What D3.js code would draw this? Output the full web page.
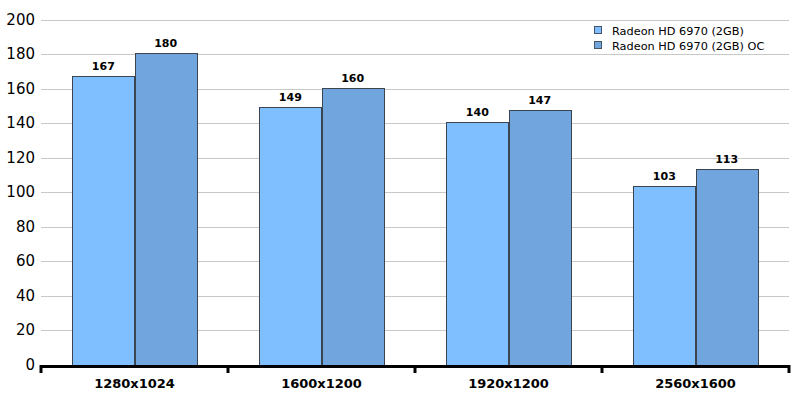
<!DOCTYPE html>
<html><head><meta charset="utf-8">
<script src="https://cdn.jsdelivr.net/npm/d3@7"></script>
<style>body{margin:0;background:#fff}svg{display:block}</style>
</head><body><svg id="c" width="803" height="397"></svg>
<script>
const categories = ["1280x1024","1600x1200","1920x1200","2560x1600"];
const seriesNames = ["Radeon HD 6970 (2GB)","Radeon HD 6970 (2GB) OC"];
const series1 = [167,149,140,103];
const series2 = [180,160,147,113];
const yTicks = [0,20,40,60,80,100,120,140,160,180,200];
const colors = ["#80bfff","#70a5dd"];

const svg = d3.select("#c");
const L = 41, R = 789, T = 19.5, B = 365;
const x = d3.scaleBand().domain(categories).range([L,R]).paddingInner(0).paddingOuter(0);
const x1 = d3.scaleBand().domain([0,1]).range([0,x.bandwidth()]).paddingOuter(0.5).paddingInner(0);
const y = d3.scaleLinear().domain([0,200]).range([B,T]);

// grid
svg.append("g").selectAll("line").data(yTicks.filter(d=>d>0)).join("line")
  .attr("x1",L).attr("x2",R).attr("y1",d=>Math.round(y(d))+0.5).attr("y2",d=>Math.round(y(d))+0.5)
  .attr("stroke","#c8c8c8").attr("stroke-width",1);

// y labels
svg.append("g").selectAll("text").data(yTicks).join("text")
  .attr("x",35).attr("y",d=>y(d)+5).attr("text-anchor","end")
  .attr("font-family","DejaVu Sans, Verdana, sans-serif").attr("font-size",15).attr("fill","#000")
  .text(d=>d);

// legend background
const lg = svg.append("g");
lg.append("rect").attr("x",586).attr("y",21).attr("width",204).attr("height",31).attr("fill","#fff");
seriesNames.forEach((n,i)=>{
  lg.append("rect").attr("x",594.5).attr("y",26.5+i*15).attr("width",7).attr("height",7)
    .attr("fill",colors[i]).attr("stroke","#445566").attr("stroke-width",1);
  lg.append("text").attr("x",612).attr("y",34.5+i*15)
    .attr("font-family","DejaVu Sans, Verdana, sans-serif").attr("font-size",11.3).attr("fill","#000").text(n);
});

// bars
const data = categories.map((c,i)=>({c, v:[series1[i],series2[i]]}));
const g = svg.append("g");
data.forEach(d=>{
  d.v.forEach((v,k)=>{
    const bx = x(d.c)+x1(k);
    g.append("rect").attr("x",Math.round(bx)+0.5).attr("y",Math.round(y(v))-0.5)
      .attr("width",Math.round(x1.bandwidth())).attr("height",Math.round(B-y(v))+1)
      .attr("fill",colors[k]).attr("stroke","#3c4450").attr("stroke-width",1);
    g.append("text").attr("x",bx+x1.bandwidth()/2).attr("y",y(v)-7)
      .attr("text-anchor","middle").attr("font-family","DejaVu Sans, Verdana, sans-serif")
      .attr("font-weight","bold").attr("font-size",11).text(v);
  });
});

// x axis
const xa = svg.append("g");
xa.append("line").attr("x1",L-1).attr("x2",R+1).attr("y1",B+1.5).attr("y2",B+1.5)
  .attr("stroke","#000").attr("stroke-width",3);
const tickX = categories.map(c=>x(c)).concat([x(categories[categories.length-1])+x.bandwidth()]);
xa.selectAll("line.t").data(tickX).join("line").attr("class","t")
  .attr("x1",d=>d).attr("x2",d=>d).attr("y1",B).attr("y2",B+8)
  .attr("stroke","#000").attr("stroke-width",3);
xa.selectAll("text").data(categories).join("text")
  .attr("x",d=>x(d)+x.bandwidth()/2).attr("y",388).attr("text-anchor","middle")
  .attr("font-family","DejaVu Sans, Verdana, sans-serif").attr("font-weight","bold").attr("font-size",13)
  .text(d=>d);
</script></body></html>
